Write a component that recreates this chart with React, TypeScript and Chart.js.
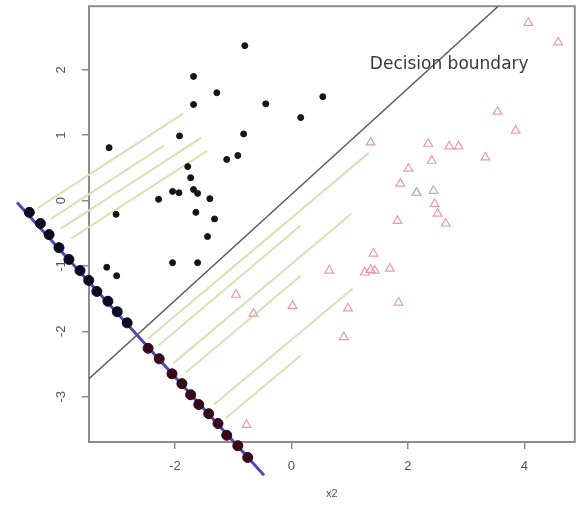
import React, { useEffect, useRef } from "react";
import { Chart, registerables } from "chart.js";
Chart.register(...registerables);

// axis ranges and ticks
const xMin = -3.475;
const xMax = 4.866;
const yMin = -3.693;
const yMax = 2.974;
const xTicks = [-2, 0, 2, 4];
const yTicks = [-3, -2, -1, 0, 1, 2];
const xTitle = "x2";

// class 1 (black dots)
const class1X = [-0.8, -1.68, -1.28, -1.68, -0.44, 0.54, 0.16, -1.92, -0.82, -3.13, -1.11, -0.92, -1.78, -1.73, -1.68, -1.61, -2.04, -1.93, -2.28, -1.4, -3.01, -1.64, -1.32, -1.44, -3.17, -3.0, -2.04, -1.61];
const class1Y = [2.37, 1.9, 1.65, 1.47, 1.48, 1.59, 1.27, 0.99, 1.02, 0.81, 0.63, 0.69, 0.52, 0.35, 0.17, 0.11, 0.14, 0.12, 0.02, 0.03, -0.21, -0.18, -0.28, -0.55, -1.02, -1.15, -0.95, -0.95];

// class 2 (triangles)
const class2X = [4.07, 4.58, 1.36, 2.35, 2.71, 2.87, 2.41, 3.33, 3.54, 3.85, 2.01, 1.87, 2.44, 2.46, 2.51, 2.65, 1.82, 1.41, 0.65, 1.26, 1.36, 1.43, 1.69, 1.84, 0.97, 0.9, 0.02, -0.95, -0.65, -0.77];
const class2Y = [2.72, 2.42, 0.89, 0.87, 0.83, 0.83, 0.61, 0.66, 1.36, 1.07, 0.49, 0.26, 0.15, -0.05, -0.2, -0.35, -0.31, -0.81, -1.07, -1.1, -1.06, -1.07, -1.04, -1.56, -1.65, -2.09, -1.61, -1.44, -1.73, -3.43];
const oddX = [2.15];
const oddY = [0.12];

// projections onto the discriminant direction
const proj1X = [-4.5, -4.31, -4.16, -3.99, -3.82, -3.63, -3.48, -3.34, -3.15, -2.99, -2.82];
const proj1Y = [-0.18, -0.35, -0.52, -0.72, -0.9, -1.07, -1.22, -1.39, -1.54, -1.7, -1.87];
const proj2X = [-2.46, -2.27, -2.05, -1.88, -1.73, -1.59, -1.42, -1.26, -1.11, -0.92, -0.75];
const proj2Y = [-2.26, -2.42, -2.65, -2.8, -2.97, -3.12, -3.26, -3.41, -3.59, -3.75, -3.93];

// lines
const boundaryX = [-3.475, 3.56];
const boundaryY = [-2.725, 2.98];
const projLineX = [-4.71, -0.47];
const projLineY = [-0.03, -4.2];
const greenX0 = [-1.86, -2.19, -1.55, -1.45, 1.33, 0.16, 1.03, 0.16, 1.05, 0.16];
const greenY0 = [1.33, 0.84, 0.96, 0.76, 0.73, -0.38, -0.2, -1.15, -1.35, -2.37];
const greenX1 = [-4.35, -4.13, -3.96, -3.78, -2.46, -2.29, -2.03, -1.81, -1.33, -1.13];
const greenY1 = [-0.11, -0.28, -0.43, -0.58, -2.11, -2.22, -2.49, -2.63, -3.12, -3.33];

const labelText = "Decision boundary";
const labelX = 2.71;
const labelY = 2.08;

const pts = (xs: number[], ys: number[]) => xs.map((x, i) => ({ x, y: ys[i] }));

const framePlugin = {
  id: "frame",
  beforeDatasetsDraw(chart: any) {
    const { ctx, chartArea: a } = chart;
    ctx.save();
    ctx.strokeStyle = "#8c8c8c";
    ctx.lineWidth = 2;
    ctx.strokeRect(a.left, a.top, a.right - a.left, a.bottom - a.top);
    ctx.restore();
  },
  // draw point elements of "unclipped" datasets even outside the chart area
  beforeDatasetDraw(chart: any, args: any) {
    const ds = chart.data.datasets[args.index];
    if (!ds.unclipped) return;
    const meta = args.meta;
    const big = { left: -1e5, top: -1e5, right: 1e5, bottom: 1e5 };
    const ctx = chart.ctx;
    ctx.save();
    meta.data.forEach((el: any) => el.draw(ctx, big));
    ctx.restore();
    return false;
  },
  afterDatasetsDraw(chart: any) {
    const { ctx, scales } = chart;
    ctx.save();
    ctx.font = '17px "DejaVu Sans"';
    ctx.fillStyle = "#3a3a3a";
    ctx.textAlign = "center";
    ctx.textBaseline = "middle";
    ctx.fillText(labelText, scales.x.getPixelForValue(labelX), scales.y.getPixelForValue(labelY));
    ctx.restore();
  },
};

const zeroPad = (s: any) => {
  s.paddingTop = 0;
  s.paddingBottom = 0;
  s.paddingLeft = 0;
  s.paddingRight = 0;
};

export default function App() {
  const ref = useRef<HTMLCanvasElement>(null);
  useEffect(() => {
    if (!ref.current) return;
    const greenData: any[] = [];
    greenX0.forEach((x, i) => {
      greenData.push({ x, y: greenY0[i] });
      greenData.push({ x: greenX1[i], y: greenY1[i] });
      greenData.push({ x: greenX1[i], y: null });
    });
    const chart = new Chart(ref.current, {
      type: "scatter",
      data: {
        datasets: [
          {
            data: pts(proj1X, proj1Y),
            pointRadius: 5,
            pointBackgroundColor: "#0b0b22",
            pointBorderColor: "#0b0b22",
            clip: false,
            unclipped: true,
            order: 0,
          } as any,
          {
            data: pts(proj2X, proj2Y),
            pointRadius: 5,
            pointBackgroundColor: "#3a0a1c",
            pointBorderColor: "#2a0614",
            clip: false,
            unclipped: true,
            order: 0,
          },
          {
            data: pts(class1X, class1Y),
            pointRadius: 3,
            pointBackgroundColor: "#151515",
            pointBorderColor: "#151515",
            order: 1,
          },
          {
            data: pts(class2X, class2Y),
            pointStyle: "triangle",
            pointRadius: 5,
            pointBackgroundColor: "rgba(0,0,0,0)",
            pointBorderColor: "#e99aa7",
            pointBorderWidth: 1.2,
            order: 1,
          },
          {
            data: pts(oddX, oddY),
            pointStyle: "triangle",
            pointRadius: 5,
            pointBackgroundColor: "rgba(0,0,0,0)",
            pointBorderColor: "#bba57c",
            pointBorderWidth: 1.2,
            order: 1,
          },
          {
            data: pts(projLineX, projLineY),
            showLine: true,
            borderColor: "#4a4ab4",
            borderWidth: 3,
            pointRadius: 0,
            clip: false,
            order: 2,
          },
          {
            data: greenData,
            showLine: true,
            spanGaps: false,
            borderColor: "#cfe6b0",
            borderWidth: 2,
            pointRadius: 0,
            clip: false,
            order: 3,
          },
          {
            data: pts(boundaryX, boundaryY),
            showLine: true,
            borderColor: "#5a5a5a",
            borderWidth: 1.5,
            pointRadius: 0,
            order: 3,
          },
        ],
      } as any,
      options: {
        responsive: false,
        animation: false,
        events: [],
        layout: { padding: { top: 5, right: 6, left: 0, bottom: 0 } },
        plugins: { legend: { display: false }, tooltip: { enabled: false } },
        scales: {
          x: {
            type: "linear",
            min: xMin,
            max: xMax,
            afterBuildTicks: (s: any) => {
              s.ticks = xTicks.map((v) => ({ value: v }));
            },
            afterFit: (s: any) => {
              s.height = 66;
              zeroPad(s);
            },
            grid: { display: true, drawOnChartArea: false, drawTicks: true, tickLength: 7, color: "#8c8c8c", lineWidth: 1.5 },
            border: { display: false },
            ticks: { color: "#555", font: { family: "Liberation Sans", size: 13 }, padding: 10, maxRotation: 0 },
            title: { display: true, text: xTitle, color: "#555", font: { family: "Liberation Sans", size: 11 }, padding: { top: 0, bottom: 7 } },
          },
          y: {
            type: "linear",
            min: yMin,
            max: yMax,
            afterBuildTicks: (s: any) => {
              s.ticks = yTicks.map((v) => ({ value: v }));
            },
            afterFit: (s: any) => {
              s.width = 89;
              zeroPad(s);
            },
            grid: { display: true, drawOnChartArea: false, drawTicks: true, tickLength: 7, color: "#8c8c8c", lineWidth: 1.5 },
            border: { display: false },
            ticks: { color: "#555", font: { family: "Liberation Sans", size: 13 }, padding: 15, minRotation: 90, maxRotation: 90, crossAlign: "center" },
          },
        },
      },
      plugins: [framePlugin],
    });
    return () => chart.destroy();
  }, []);
  return (
    <div style={{ position: "fixed", left: 0, top: 0, width: 581, height: 508, background: "#fff" }}>
      <canvas ref={ref} width={581} height={508} />
    </div>
  );
}
